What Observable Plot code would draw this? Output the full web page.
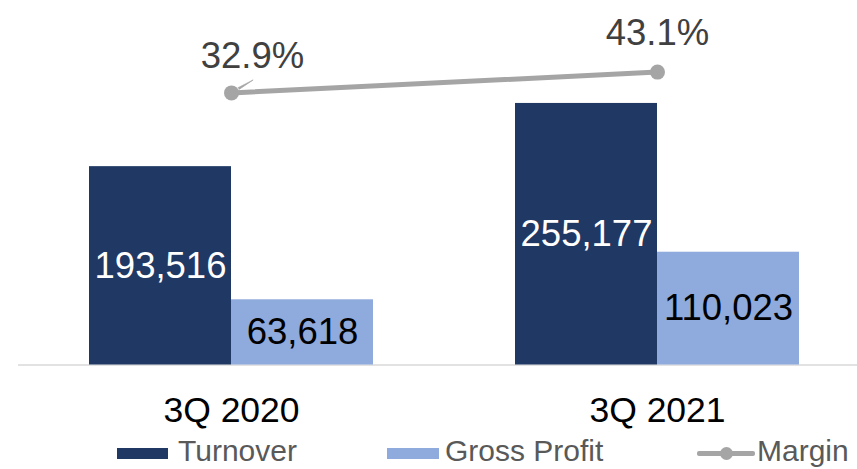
<!DOCTYPE html>
<html>
<head>
<meta charset="utf-8">
<script src="https://cdn.jsdelivr.net/npm/d3@7"></script>
<script src="https://cdn.jsdelivr.net/npm/@observablehq/plot@0.6"></script>
<style>
  html, body { margin: 0; padding: 0; background: #fff; }
  body { width: 857px; height: 469px; overflow: hidden; font-family: "Liberation Sans", Arial, sans-serif; }
  #legend { position: relative; width: 857px; height: 34px; }
  #legend .sw { position: absolute; }
  #legend .lbl { position: absolute; font-size: 30px; line-height: 30px; color: #595959; white-space: nowrap; }
</style>
</head>
<body>
<div id="chart"></div>
<div id="legend"></div>
<script>
const quarters = ["3Q 2020", "3Q 2021"];
const turnover = [193516, 255177];
const grossProfit = [63618, 110023];
const margin = [32.9, 43.1];
const seriesNames = ["Turnover", "Gross Profit", "Margin"];
const colors = { "Turnover": "#203864", "Gross Profit": "#8FAADC", "Margin": "#A5A5A5" };

const turnoverData = quarters.map((q, i) => ({ quarter: q, value: turnover[i] }));
const gpData = quarters.map((q, i) => ({ quarter: q, value: grossProfit[i] }));
// hidden secondary axis for the margin percentage
const marginAxis = d3.scaleLinear().domain([0, 50]).range([200000, 299500]);
const marginData = quarters.map((q, i) => ({ quarter: q, pct: margin[i], y: marginAxis(margin[i]) }));

const fmt = d3.format(",");
const W = 857, H = 435;

const chart = Plot.plot({
  width: W,
  height: H,
  marginTop: 57,
  marginBottom: 70.5,
  marginLeft: 18,
  marginRight: 0,
  style: { fontFamily: "'Liberation Sans', Arial, sans-serif", background: "#fff", overflow: "visible" },
  x: { type: "band", domain: quarters, range: [33.6, 854.4], paddingInner: 0.3333, paddingOuter: 0.13, axis: null },
  y: { domain: [0, 300000], axis: null },
  marks: [
    Plot.ruleY([0], { stroke: "#D9D9D9", strokeWidth: 1.5 }),
    Plot.barY(turnoverData, { x: "quarter", y: "value", fill: colors["Turnover"], insetRight: 142 }),
    Plot.barY(gpData, { x: "quarter", y: "value", fill: colors["Gross Profit"], insetLeft: 142 }),
    Plot.text(turnoverData, { x: "quarter", y: d => d.value / 2, text: d => fmt(d.value), dx: -71, fill: "#fff", fontSize: 36.5, lineAnchor: "middle" }),
    Plot.text(gpData, { x: "quarter", y: d => d.value / 2, text: d => fmt(d.value), dx: 71, fill: "#000", fontSize: 36.5, lineAnchor: "middle" }),
    Plot.line(marginData, { x: "quarter", y: "y", stroke: colors["Margin"], strokeWidth: 5 }),
    Plot.dot(marginData, { x: "quarter", y: "y", r: 7.5, fill: colors["Margin"], stroke: "none" }),
    Plot.vector(marginData.slice(0, 1), { x: "quarter", y: "y", dx: 7, dy: -4.3, length: 17, rotate: 59.4, anchor: "start", shape: "spike", r: 1, fill: colors["Margin"], stroke: colors["Margin"], strokeWidth: 0.6 }),
    Plot.text(marginData.slice(0, 1), { x: "quarter", y: "y", text: d => d.pct.toFixed(1) + "%", dx: 21, dy: -24.7, lineAnchor: "bottom", fill: "#404040", fontSize: 36.5 }),
    Plot.text(marginData.slice(1), { x: "quarter", y: "y", text: d => d.pct.toFixed(1) + "%", dx: 0, dy: -26.6, lineAnchor: "bottom", fill: "#404040", fontSize: 36.5 }),
    Plot.axisX({ tickSize: 0, tickPadding: 32, fontSize: 35.5, fill: "#000", color: "#000", label: null })
  ]
});
document.getElementById("chart").appendChild(chart);

// Legend (HTML, below the SVG)
const legend = document.getElementById("legend");
const legendLayout = [
  { name: seriesNames[0], kind: "rect", sx: 117, sw: 51, tx: 178 },
  { name: seriesNames[1], kind: "rect", sx: 387, sw: 52, tx: 445 },
  { name: seriesNames[2], kind: "line", sx: 697, sw: 58, tx: 757 }
];
for (const item of legendLayout) {
  if (item.kind === "rect") {
    const s = document.createElement("div");
    s.className = "sw";
    Object.assign(s.style, { left: item.sx + "px", top: "13px", width: item.sw + "px", height: "11px", background: colors[item.name] });
    legend.appendChild(s);
  } else {
    const l = document.createElement("div");
    l.className = "sw";
    Object.assign(l.style, { left: item.sx + "px", top: "16px", width: item.sw + "px", height: "5px", background: colors[item.name], borderRadius: "2px" });
    legend.appendChild(l);
    const d = document.createElement("div");
    d.className = "sw";
    Object.assign(d.style, { left: (item.sx + item.sw / 2 - 6.5) + "px", top: "12px", width: "13px", height: "13px", background: colors[item.name], borderRadius: "50%" });
    legend.appendChild(d);
  }
  const t = document.createElement("div");
  t.className = "lbl";
  t.textContent = item.name;
  Object.assign(t.style, { left: item.tx + "px", top: "1px" });
  legend.appendChild(t);
}
</script>
</body>
</html>
